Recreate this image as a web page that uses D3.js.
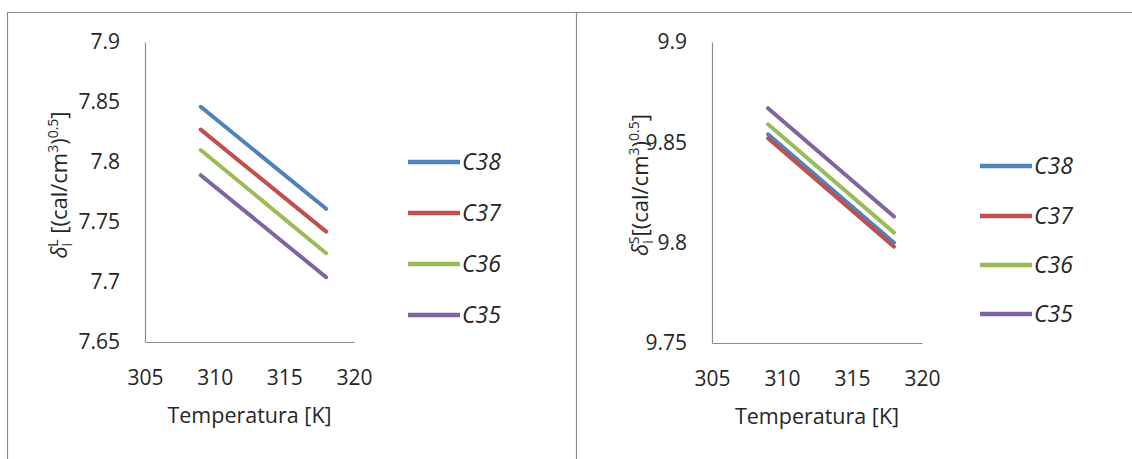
<!DOCTYPE html>
<html>
<head>
<meta charset="utf-8">
<script src="https://cdn.jsdelivr.net/npm/d3@7"></script>
<style>
  html, body { margin: 0; padding: 0; background: #fff; }
  svg { display: block; }
  text { font-family: "Open Sans", "Noto Sans", sans-serif; fill: #262626; }
</style>
</head>
<body>
<svg id="chart" width="1132" height="459"></svg>
<script>
// Temperatures (K) at which the solubility parameters were evaluated
const temperatures = [309, 318];

// Series names, in legend order
const seriesNames = ["C38", "C37", "C36", "C35"];
const seriesColors = ["#4F81BD", "#C0504D", "#9BBB59", "#8064A2"];

// Liquid-phase solubility parameter δ_i^L
const liquidC38 = [7.846, 7.761];
const liquidC37 = [7.827, 7.742];
const liquidC36 = [7.810, 7.724];
const liquidC35 = [7.789, 7.704];

// Solid-phase solubility parameter δ_i^S
const solidC38 = [9.854, 9.800];
const solidC37 = [9.852, 9.798];
const solidC36 = [9.859, 9.805];
const solidC35 = [9.867, 9.813];

// Axis ticks
const xTicks = [305, 310, 315, 320];
const liquidTicks = [7.65, 7.7, 7.75, 7.8, 7.85, 7.9];
const solidTicks = [9.75, 9.8, 9.85, 9.9];

const xTitle = "Temperatura [K]";

const svg = d3.select("#chart");

// Outer frame: top edge, left edge and the divider between the two panels
const frame = svg.append("g").attr("stroke", "#8c8c8c").attr("stroke-width", 1.2).attr("fill", "none");
frame.append("path").attr("d", "M7.5,459 V12.5 H1132");
frame.append("path").attr("d", "M576.5,12.5 V459");

function drawPanel(opts) {
  const g = svg.append("g").attr("transform", `translate(${opts.left},0)`);
  const x = d3.scaleLinear().domain([305, 320]).range([0, opts.width]);
  const y = d3.scaleLinear().domain(opts.yDomain).range([opts.bottom, opts.top]);

  // Axes: plain grey lines without tick marks
  const xAxis = g.append("g").attr("transform", `translate(0,${opts.bottom})`)
    .call(d3.axisBottom(x).tickValues(xTicks).tickSize(0).tickPadding(28).tickFormat(d3.format("d")));
  const yAxis = g.append("g")
    .call(d3.axisLeft(y).tickValues(opts.yTicks).tickSize(0).tickPadding(25).tickFormat(d => String(+d.toFixed(2))));
  [xAxis, yAxis].forEach(a => {
    a.select(".domain").attr("stroke", "#8c8c8c").attr("stroke-width", 1.2);
    a.selectAll("text").attr("font-size", 21).attr("fill", "#262626")
      .attr("font-family", "'Open Sans', sans-serif");
  });

  // Series lines (drawn in legend order so later series sit on top)
  const line = d3.line().x((d, i) => x(temperatures[i])).y(d => y(d));
  opts.series.forEach((vals, k) => {
    g.append("path").datum(vals)
      .attr("d", line)
      .attr("fill", "none")
      .attr("stroke", seriesColors[k])
      .attr("stroke-width", 4)
      .attr("stroke-linecap", "round");
  });

  // X axis title
  g.append("text")
    .attr("x", opts.width / 2).attr("y", opts.bottom + 81)
    .attr("text-anchor", "middle").attr("font-size", 21.5)
    .text(xTitle);

  // Y axis title with subscript / superscripts
  const yt = g.append("text")
    .attr("transform", `translate(${opts.yTitleX},${opts.yTitleY}) rotate(-90)`)
    .attr("text-anchor", "middle").attr("font-size", 22);
  yt.append("tspan").attr("font-style", "italic").text("δ");
  yt.append("tspan").attr("font-size", 14).attr("dy", 5).text("i");
  yt.append("tspan").attr("font-size", 14).attr("dx", -4).attr("dy", -14).text(opts.phase);
  yt.append("tspan").attr("dy", 9).text(opts.gap + "[(cal/cm");
  yt.append("tspan").attr("font-size", 14).attr("dy", -9).text("3");
  yt.append("tspan").attr("dy", 9).text(")");
  yt.append("tspan").attr("font-size", 14).attr("dy", -9).text("0.5");
  yt.append("tspan").attr("dy", 9).text("]");

  // Legend
  const lg = g.append("g").attr("transform", `translate(${opts.legendX},0)`);
  seriesNames.forEach((name, k) => {
    const ly = opts.legendY[k];
    lg.append("line").attr("x1", 0).attr("x2", 52).attr("y1", ly).attr("y2", ly)
      .attr("stroke", seriesColors[k]).attr("stroke-width", 4.5);
    lg.append("text").attr("x", 54).attr("y", ly).attr("dy", "0.35em")
      .attr("font-size", 23).attr("font-style", "italic").text(name);
  });
}

drawPanel({
  left: 145, width: 209, top: 42, bottom: 342,
  yDomain: [7.65, 7.9], yTicks: liquidTicks,
  series: [liquidC38, liquidC37, liquidC36, liquidC35],
  phase: "L", gap: " ", yTitleX: -78, yTitleY: 185,
  legendX: 263, legendY: [162, 213, 264, 315]
});

drawPanel({
  left: 712, width: 210, top: 42, bottom: 343,
  yDomain: [9.75, 9.9], yTicks: solidTicks,
  series: [solidC38, solidC37, solidC36, solidC35],
  phase: "S", gap: "", yTitleX: -64, yTitleY: 185,
  legendX: 268, legendY: [166, 216, 265, 314]
});
</script>
</body>
</html>
